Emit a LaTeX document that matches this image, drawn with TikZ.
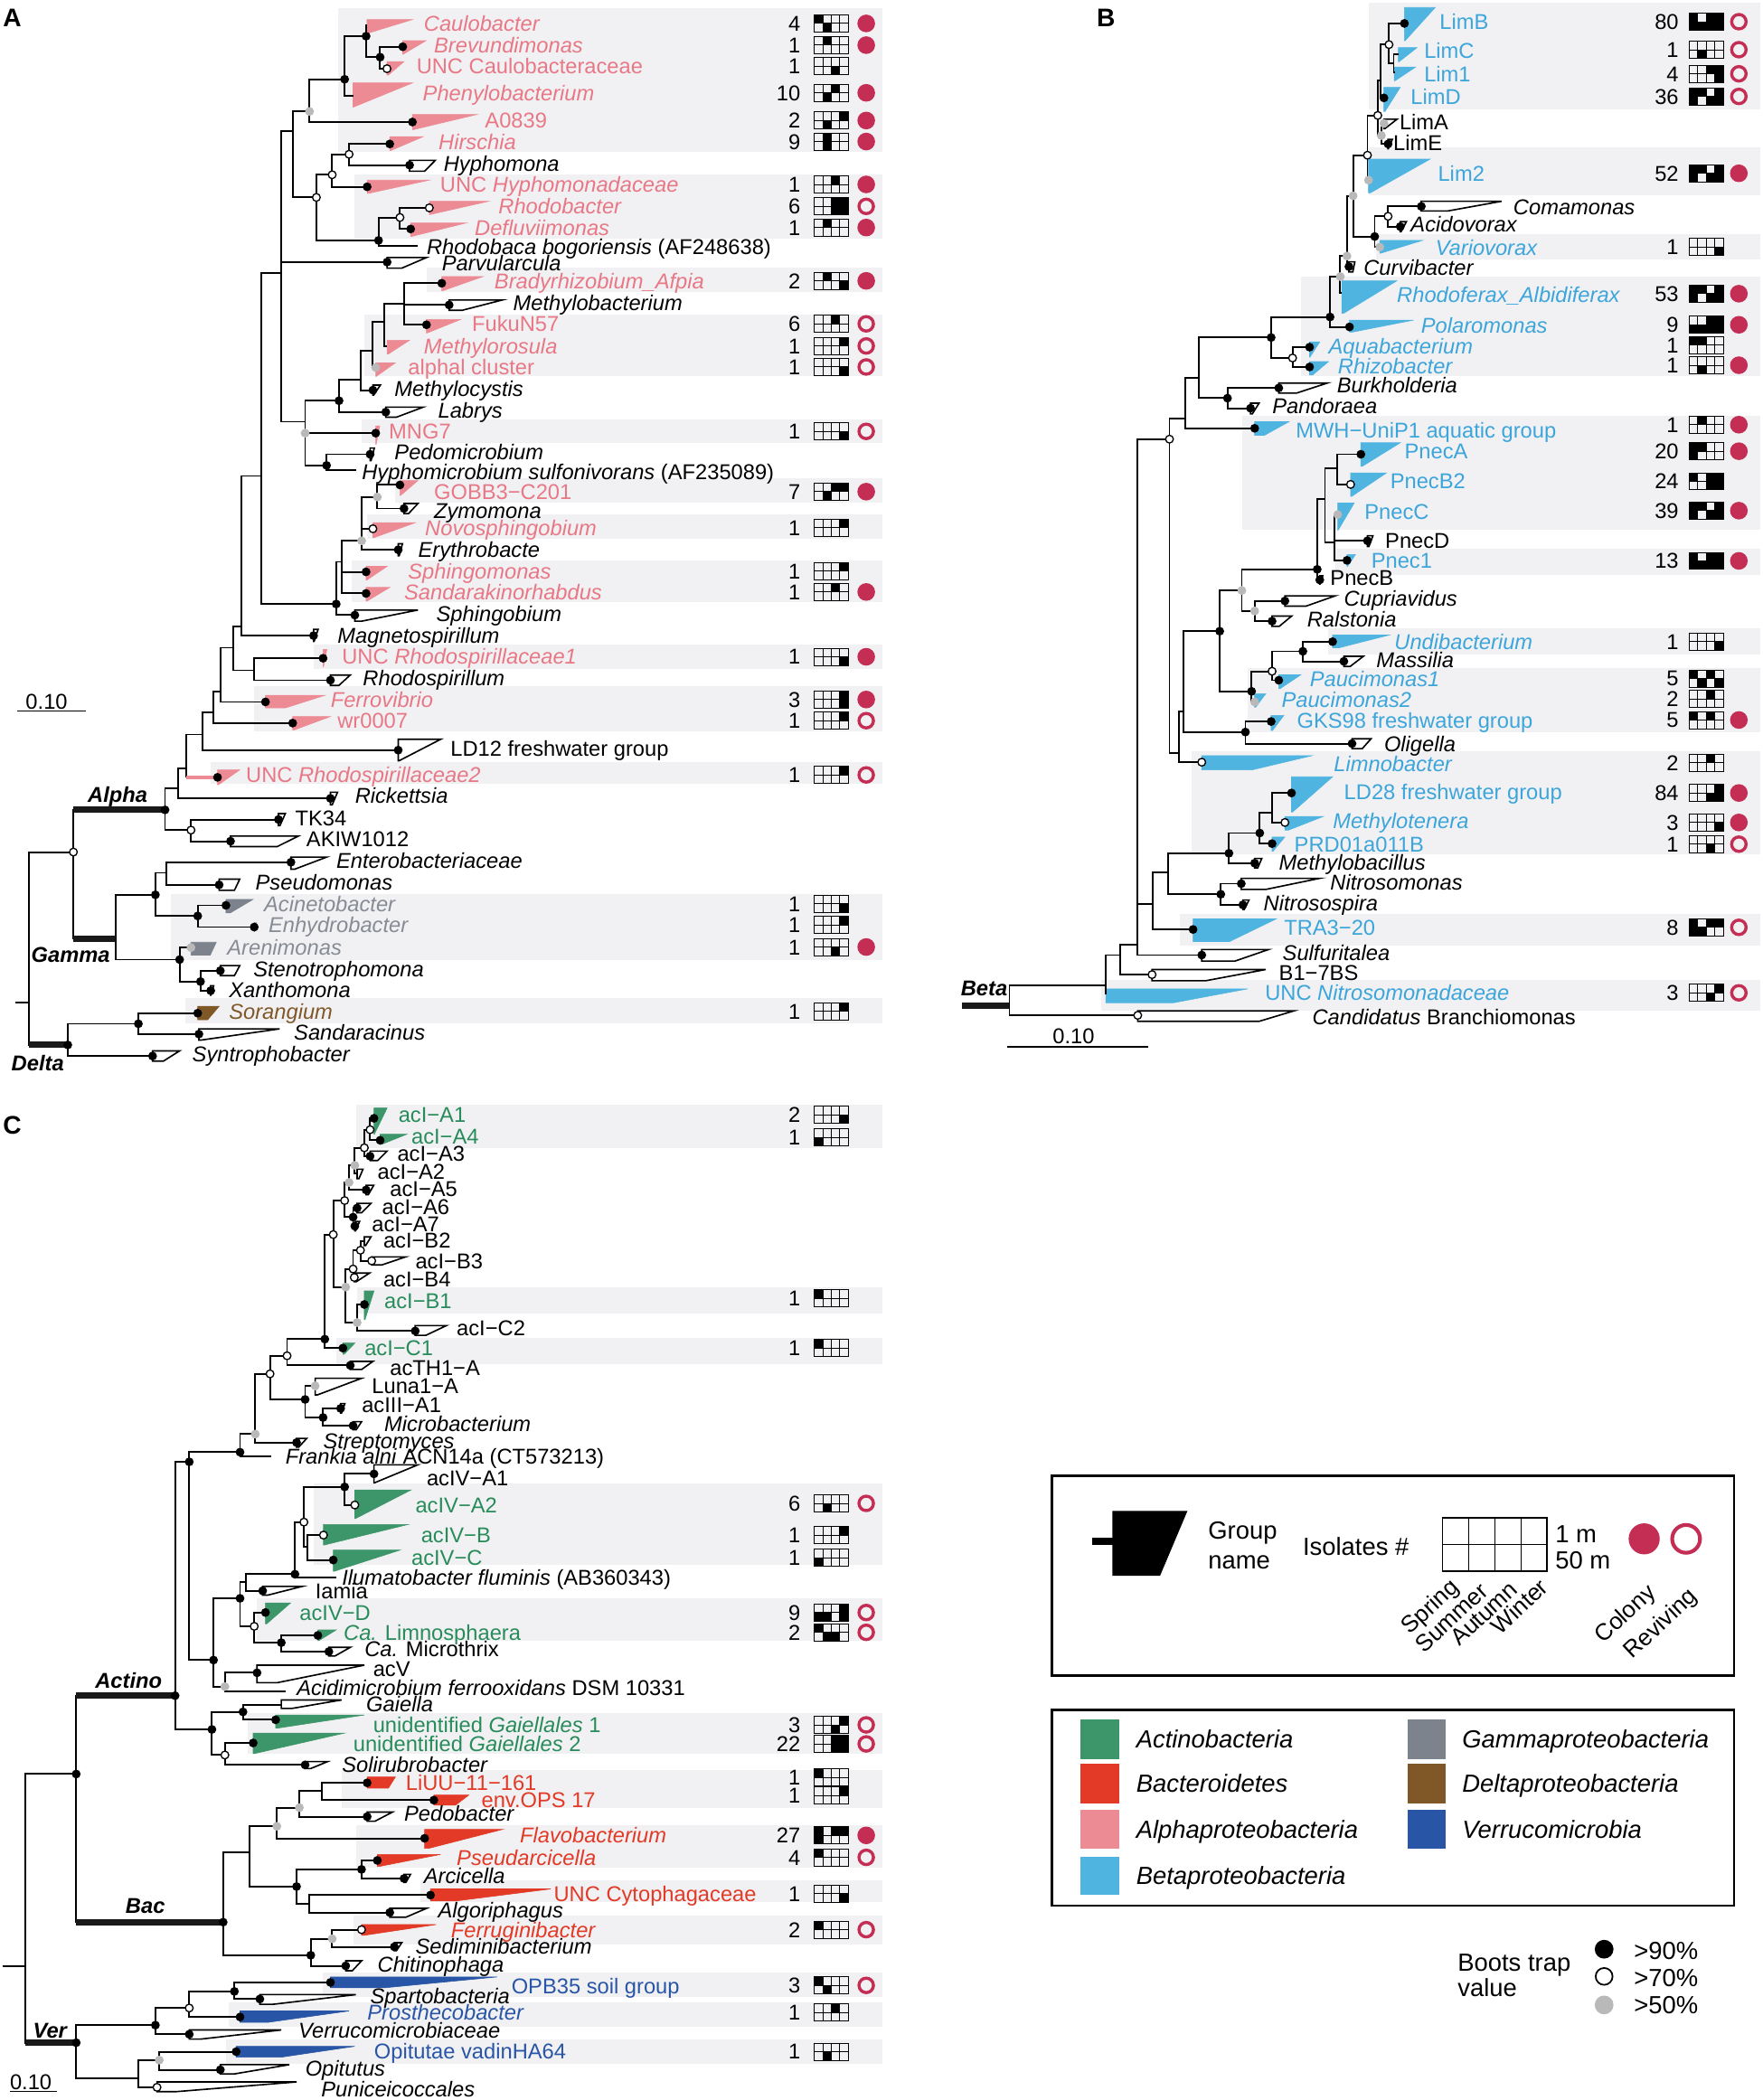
\documentclass[tikz,border=0pt]{standalone}
\usepackage{fontspec}
\setmainfont{Liberation Sans}
\definecolor{alphaC}{RGB}{237,139,149}
\definecolor{alphaT}{RGB}{232,120,133}
\definecolor{betaC}{RGB}{80,180,225}
\definecolor{betaT}{RGB}{60,165,218}
\definecolor{gamC}{RGB}{125,131,141}
\definecolor{gamT}{RGB}{135,140,148}
\definecolor{delC}{RGB}{128,88,40}
\definecolor{actC}{RGB}{60,150,105}
\definecolor{actT}{RGB}{40,140,90}
\definecolor{bacC}{RGB}{226,58,38}
\definecolor{verC}{RGB}{40,85,165}
\definecolor{crim}{RGB}{196,46,84}
\definecolor{band}{RGB}{241,241,244}
\definecolor{dotg}{RGB}{185,185,185}
\newcounter{tc}
\newcommand\Wd[8]{\coordinate (#1) at (#2,#3); \filldraw[#8] (#2,#4) -- (#6,#4) -- (#7,#5) -- (#2,#5) -- cycle;}
\newcommand\Ed[2]{\foreach \nn in {#2}{\draw[br] (#1) |- (\nn);}}
\newcommand\Db[1]{\foreach \nn in {#1}{\fill[black] (\nn) circle (3.3);}}
\newcommand\Do[1]{\foreach \nn in {#1}{\filldraw[fill=white,draw=black,line width=0.9] (\nn) circle (2.9);}}
\newcommand\Dg[1]{\foreach \nn in {#1}{\fill[dotg] (\nn) circle (3.3);}}
\newcommand\Lb[4][]{\stepcounter{tc}\node[lab,#1] (t\arabic{tc}) at (#2,#3+5.7) {#4};}
\newcommand\gridd[3]{%
 \foreach \gv [count=\gi from 0] in {#3}{%
   \ifnum\gv=1\relax
     \pgfmathsetmacro\gx{#1+6.4*mod(\gi,4)}%
     \pgfmathsetmacro\gy{#2-6.4+6.4*floor(\gi/4)}%
     \fill (\gx,\gy) rectangle ++(6.4,6.4);%
   \fi}%
 \draw[gl] (#1,#2-6.4) rectangle ++(25.6,12.8);
 \draw[gl] (#1+6.4,#2-6.4) -- ++(0,12.8) (#1+12.8,#2-6.4) -- ++(0,12.8) (#1+19.2,#2-6.4) -- ++(0,12.8) (#1,#2) -- ++(25.6,0);}
\newcommand\Row[7]{\stepcounter{tc}\node[numl] (t\arabic{tc}) at (#1,#4+5.7) {#5};\gridd{#2}{#4}{#6}\ifcase#7\or\fill[crim] (#3,#4) circle (6.6);\or\draw[crim,line width=2.3] (#3,#4) circle (5.4);\fi}
\newcommand\RA[4]{\Row{597.8}{607.8}{646.7}{#1}{#2}{#3}{#4}}
\newcommand\RB[4]{\Row{1253.4}{1261}{1298.2}{#1}{#2}{#3}{#4}}
\begin{document}
\begin{tikzpicture}[x=1pt,y=-1pt,
  br/.style={line width=1.3,black},
  thk/.style={line width=4.6,black!90},
  gl/.style={line width=0.6,black},
  lab/.style={anchor=base west,inner sep=0,font=\fontsize{16}{18}\selectfont},
  numl/.style={anchor=base east,inner sep=0,font=\fontsize{16}{18}\selectfont},
  clb/.style={font=\fontsize{16}{18}\selectfont\bfseries\itshape},
  pl/.style={anchor=north west,inner sep=0,font=\fontsize{19}{20}\selectfont\bfseries},
  leg/.style={anchor=base west,inner sep=0,font=\fontsize{18.5}{20}\selectfont},
  legr/.style={anchor=east,inner sep=0,rotate=43,font=\fontsize{17.5}{19}\selectfont},
  ta/.style={text=alphaT}, tb/.style={text=betaT}, tg/.style={text=gamT},
  td/.style={text=delC}, tc/.style={text=actT}, tr/.style={text=bacC}, tv/.style={text=verC},
  wa/.style={fill=alphaC,draw=alphaC,line width=0.4},
  wb/.style={fill=betaC,draw=betaC,line width=0.4},
  wg/.style={fill=gamC,draw=gamC,line width=0.4},
  wd/.style={fill=delC,draw=delC,line width=0.4},
  wc/.style={fill=actC,draw=actC,line width=0.4},
  wr/.style={fill=bacC,draw=bacC,line width=0.4},
  wv/.style={fill=verC,draw=verC,line width=0.4},
  wo/.style={fill=white,draw=black,line width=1.1}]
\useasboundingbox (0,0) rectangle (1316,1568);
\fill[white] (0,0) rectangle (1316,1568);
% ================= PANEL A =================
\fill[band] (252.2,6.3) rectangle (659,113.6);
\fill[band] (264.9,130) rectangle (659,178.2);
\fill[band] (318.4,199.8) rectangle (659,218.2);
\fill[band] (272,235) rectangle (659,281);
\fill[band] (270,313) rectangle (659,331);
\fill[band] (295,357.2) rectangle (659,375.2);
\fill[band] (274,384.2) rectangle (659,402.6);
\fill[band] (262.3,418.4) rectangle (659,449.4);
\fill[band] (234,481) rectangle (659,499.8);
\fill[band] (189.8,512.4) rectangle (659,546.2);
\fill[band] (157,568.7) rectangle (659,584.9);
\fill[band] (127.4,667.7) rectangle (659,716.5);
\fill[band] (138.3,745) rectangle (659,764.4);
\Wd{Caul}{274}{19}{14.6}{24.7}{308}{275}{wa}
\Wd{Brev}{300.7}{34.9}{30.4}{40.5}{318}{301}{wa}
\Wd{UNCC}{288.9}{51.3}{46}{56}{301.6}{290}{wa}
\Wd{Phen}{263.6}{71.5}{61.9}{79.9}{308}{264}{wa}
\Wd{Aoe}{307.9}{91.1}{85.5}{96.7}{356}{309}{wa}
\Wd{Hirs}{291}{107.5}{102}{112.5}{316}{291.5}{wa}
\Wd{Hyph}{305.8}{123.3}{119.7}{127.8}{325}{317}{wo}
\Wd{UNCH}{274.1}{139.5}{134.5}{144.4}{320.5}{275}{wa}
\Wd{Rbac}{320.5}{155.2}{150.3}{160.2}{364.8}{321}{wa}
\Wd{Defl}{306.6}{171}{166.5}{176.6}{348}{307}{wa}
\coordinate (Rbca) at (312,183.4);
\Wd{Parv}{289}{195.7}{192.3}{200.2}{318.4}{300}{wo}
\Wd{Brad}{329.8}{211.5}{206.5}{217.1}{360.6}{330.5}{wa}
\Wd{Mbact}{335.3}{227.7}{224}{231.7}{375}{345}{wo}
\Wd{Fuku}{318.4}{242.5}{238.5}{248.6}{344}{319}{wa}
\Wd{Mros}{289}{258.7}{254}{264.3}{305.8}{290}{wa}
\Wd{Alph}{280.5}{274.4}{271}{281}{295}{281}{wa}
\Wd{Mcys}{278.4}{291.3}{287.5}{295}{284}{279}{wo}
\Wd{Labr}{288}{307.7}{304}{311.5}{316}{296}{wo}
\Wd{MNG}{280.5}{323.4}{318}{331.8}{283.5}{280.8}{wa}
\Wd{Pedo}{276.3}{339.2}{334.5}{344}{279.5}{277}{wo}
\coordinate (Hsul) at (265.7,351.3);
\Wd{GOBB}{298.6}{362.1}{358.8}{370}{312}{299}{wa}
\Wd{Zymo}{301.6}{379.7}{376}{383.5}{312}{305}{wo}
\Wd{Novo}{278.4}{394.8}{390.3}{401.5}{310}{279}{wa}
\Wd{Eryt}{297.3}{410.5}{406}{415}{300.5}{298}{wo}
\Wd{Sphm}{273.3}{427}{422.9}{433}{289}{274}{wa}
\Wd{Sand}{273.3}{443.1}{438.6}{448.8}{291}{274}{wa}
\Wd{Sphb}{264.9}{459.3}{455.5}{463.8}{312}{270}{wo}
\Wd{Magn}{234.1}{474.6}{470}{479}{237.5}{234.5}{wo}
\Wd{URa}{241.2}{491.5}{485}{498}{244}{241.5}{wa}
\Wd{Rspi}{246.7}{507.9}{504}{511.8}{261.5}{253}{wo}
\Wd{Ferr}{198.2}{524.1}{519.2}{528.6}{242.5}{213}{wa}
\Wd{Wr}{218.5}{539.9}{535}{544.9}{246.7}{220}{wa}
\Wd{LDt}{297.3}{560.1}{552}{568}{329}{298}{wo}
\Wd{URb}{162.4}{580.4}{574.8}{586}{179}{163}{wa}
\Wd{Rick}{246.7}{596.1}{591.5}{601}{252}{248}{wo}
\Wd{TK}{207.9}{611.9}{607.5}{616.5}{213}{209}{wo}
\Wd{AKIW}{172.1}{628.1}{624.3}{632.1}{222.7}{207}{wo}
\Wd{Ente}{217.2}{643.8}{640}{649}{243.8}{220}{wo}
\Wd{Pseu}{163.6}{660.7}{656.4}{664.8}{179}{175}{wo}
\Wd{Acin}{168.7}{676}{671.5}{681.6}{189}{172}{wg}
\Wd{Enhy}{189.8}{692.2}{689}{695.5}{191.5}{190}{wg}
\Wd{Aren}{142.6}{707.5}{703.5}{713.1}{161.5}{157}{wg}
\Wd{Sten}{164.5}{724.8}{721}{728.5}{179}{175}{wo}
\Wd{Xant}{157.3}{739.7}{736}{743}{159.5}{157.5}{wo}
\Wd{Sora}{147.6}{756.5}{751.4}{761.5}{163.6}{155}{wd}
\Wd{Sndr}{148.5}{772.1}{768.2}{776.6}{208.8}{150}{wo}
\Wd{Synt}{113.9}{788.5}{784.7}{792.3}{134}{122}{wo}
\coordinate (a1) at (273.3,27);
\coordinate (a2) at (283.8,42.7);
\coordinate (a3) at (257.3,59.2);
\coordinate (a4) at (231.1,83.2);
\coordinate (a5) at (218.5,97.9);
\coordinate (a6) at (236.2,147.4);
\coordinate (a7) at (248,130.5);
\coordinate (a7b) at (260.6,115.2);
\coordinate (a8) at (282.6,179.5);
\coordinate (a8b) at (298.6,162.4);
\coordinate (a9) at (210,203.6);
\coordinate (a12) at (302,227);
\coordinate (a13) at (287,240);
\coordinate (a14) at (278.4,262);
\coordinate (a15) at (269.1,283.4);
\coordinate (a16) at (253.1,299.2);
\coordinate (a10) at (227.8,314.9);
\coordinate (a10g) at (227.8,323.4);
\coordinate (a17) at (243.8,347.5);
\coordinate (a22) at (281.7,371.1);
\coordinate (a23) at (270,403.8);
\coordinate (a24) at (255.2,419.5);
\coordinate (a19) at (251,451);
\coordinate (a18) at (195.3,355.4);
\coordinate (a25) at (180.5,467.9);
\coordinate (a27) at (189.8,500.5);
\coordinate (a26) at (174.2,483.6);
\coordinate (a28) at (164.5,516.3);
\coordinate (a29) at (159.4,532);
\coordinate (a30) at (151,548.4);
\coordinate (a31) at (139.2,573.6);
\coordinate (a32) at (132.9,588.3);
\coordinate (aAl) at (123.2,604.7);
\coordinate (a34) at (142.6,619.8);
\coordinate (aR1) at (54.8,636.2);
\coordinate (aGa) at (86.5,700.8);
\coordinate (a37) at (116,668.1);
\coordinate (a39) at (124.4,651.7);
\coordinate (a40) at (147.6,683.9);
\coordinate (a38) at (134.1,716.5);
\coordinate (a41) at (149.7,732.9);
\coordinate (aDe) at (50.6,780.2);
\coordinate (a43) at (103.3,764.4);
\coordinate (aRt) at (21.9,748.7);
\coordinate (aSt) at (11.8,748.7);
\Ed{a1}{Caul,a2} \Ed{a2}{Brev,UNCC} \Ed{a3}{a1,Phen} \Ed{a4}{a3,Aoe} \Ed{a5}{a4,a6}
\Ed{a6}{a7,a8} \Ed{a7}{a7b,UNCH} \Ed{a7b}{Hirs,Hyph} \Ed{a8}{a8b,Rbca} \Ed{a8b}{Rbac,Defl}
\Ed{a9}{a5,Parv,a10} \Ed{a12}{Brad,Mbact,Fuku} \Ed{a13}{a12,Mros} \Ed{a14}{a13,Alph}
\Ed{a15}{a14,Mcys} \Ed{a16}{a15,Labr} \Ed{a10}{a16,MNG,a17} \Ed{a17}{Pedo,Hsul}
\Ed{a22}{GOBB,Zymo} \Ed{a23}{a22,Novo,Eryt} \Ed{a24}{a23,Sphm,Sand} \Ed{a19}{a24,Sphb}
\Ed{a18}{a9,a19} \Ed{a25}{a18,Magn} \Ed{a27}{URa,Rspi} \Ed{a26}{a25,a27} \Ed{a28}{a26,Ferr}
\Ed{a29}{a28,Wr} \Ed{a30}{a29,LDt} \Ed{a31}{a30} \Ed{a32}{a31,Rick} \Ed{aAl}{a32,a34}
\Ed{a34}{TK,AKIW} \Ed{aR1}{aAl,aGa} \Ed{aGa}{a37,a38} \Ed{a37}{a39,a40} \Ed{a39}{Ente,Pseu}
\Ed{a40}{Acin,Enhy} \Ed{a38}{Aren,a41} \Ed{a41}{Sten,Xant} \Ed{aDe}{a43,Synt} \Ed{a43}{Sora,Sndr}
\Ed{aRt}{aR1,aDe}
\draw[br] (aSt) -- (aRt);
\draw[br] (a31) -- (a31 |- URb);
\draw[alphaC,line width=2.2] (a31 |- URb) -- (URb);
\draw[thk] (aR1 |- aAl) -- (aAl);
\draw[thk] (aR1 |- aGa) -- (aGa);
\draw[thk] (aRt |- aDe) -- (aDe);
\Db{a1,a2,a3,Brev,Aoe,Hirs,Hyph,UNCH,a8,Defl,Parv,Brad,Mbact,Fuku,Mcys,a16,Labr,MNG,a17,Pedo,GOBB,Zymo,Eryt,Sphm,Sand,a19,Sphb,Magn,URa,Rspi,Ferr,Wr,LDt,URb,Rick,aAl,TK,AKIW,Ente,Pseu,a37,a40,Acin,Enhy,a38,a41,Sten,Xant,aDe,a43,Sora,Sndr,Synt}
\Do{UNCC,a6,a7,a7b,a8b,Rbac,Novo,a34,aR1}
\Dg{a4,Alph,a22,a23,Aren,a10g}
\Lb[ta]{316.3}{17.5}{\textit{Caulobacter}}
\Lb[ta]{323.9}{33.7}{\textit{Brevundimonas}}
\Lb[ta]{310.8}{49.5}{UNC Caulobacteraceae}
\Lb[ta]{315.5}{69.3}{\textit{Phenylobacterium}}
\Lb[ta]{361.9}{90}{A0839}
\Lb[ta]{327.3}{105.7}{\textit{Hirschia}}
\Lb{331.1}{121.9}{\textit{Hyphomona}}
\Lb[ta]{328.5}{137.7}{UNC \textit{Hyphomonadaceae}}
\Lb[ta]{372}{154.1}{\textit{Rhodobacter}}
\Lb[ta]{354.3}{169.9}{\textit{Defluviimonas}}
\Lb{318.4}{184}{\textit{Rhodobaca bogoriensis} (AF248638)}
\Lb{329.8}{196.2}{\textit{Parvularcula}}
\Lb[ta]{369}{209.7}{\textit{Bradyrhizobium\_Afpia}}
\Lb{383}{226.1}{\textit{Methylobacterium}}
\Lb[ta]{352.2}{241.8}{FukuN57}
\Lb[ta]{316.3}{258.3}{\textit{Methylorosula}}
\Lb[ta]{304.5}{274}{alphal cluster}
\Lb{294.4}{290.1}{\textit{Methylocystis}}
\Lb{326.9}{306.3}{\textit{Labrys}}
\Lb[ta]{290.2}{322.1}{MNG7}
\Lb{294.4}{337.8}{\textit{Pedomicrobium}}
\Lb{270}{352.7}{\textit{Hyphomicrobium sulfonivorans} (AF235089)}
\Lb[ta]{323.9}{367.1}{GOBB3−C201}
\Lb{323.9}{381.3}{\textit{Zymomona}}
\Lb[ta]{317.2}{394.1}{\textit{Novosphingobium}}
\Lb{312.1}{410.5}{\textit{Erythrobacte}}
\Lb[ta]{304.5}{426.3}{\textit{Sphingomonas}}
\Lb[ta]{301.6}{442}{\textit{Sandarakinorhabdus}}
\Lb{325.6}{458.4}{\textit{Sphingobium}}
\Lb{251.8}{474.6}{\textit{Magnetospirillum}}
\Lb[ta]{255.2}{490.4}{UNC \textit{Rhodospirillaceae1}}
\Lb{270.8}{506.6}{\textit{Rhodospirillum}}
\Lb[ta]{246.7}{522.3}{\textit{Ferrovibrio}}
\Lb[ta]{251.8}{538.1}{wr0007}
\Lb{336.2}{559}{LD12 freshwater group}
\Lb[ta]{183.5}{578.6}{UNC \textit{Rhodospirillaceae2}}
\Lb{264.9}{594.3}{\textit{Rickettsia}}
\Lb{220.2}{610.8}{TK34}
\Lb{228.6}{626.5}{AKIW1012}
\Lb{251}{642.9}{\textit{Enterobacteriaceae}}
\Lb{190.6}{659.1}{\textit{Pseudomonas}}
\Lb[tg]{197}{674.9}{\textit{Acinetobacter}}
\Lb[tg]{200.3}{690.6}{\textit{Enhydrobacter}}
\Lb[tg]{169.5}{707.1}{\textit{Arenimonas}}
\Lb{189}{723.3}{\textit{Stenotrophomona}}
\Lb{170.8}{739}{\textit{Xanthomona}}
\Lb[td]{170.8}{755.2}{\textit{Sorangium}}
\Lb{219.3}{770.9}{\textit{Sandaracinus}}
\Lb{143.4}{786.9}{\textit{Syntrophobacter}}
\Lb[clb]{65.4}{593.4}{Alpha}
\Lb[clb]{23.2}{712.7}{Gamma}
\Lb[clb]{8.4}{794.1}{Delta}
\node[pl] (pA) at (2.1,6.5) {A};
\draw[line width=1] (12.7,531) -- (64.1,531);
\node[lab,anchor=base] (sA) at (34.8,529.5) {0.10};
\RA{17.5}{4}{1,0,0,0,0,1,0,0}{1}
\RA{33.7}{1}{0,1,0,0,0,0,0,0}{1}
\RA{49.5}{1}{0,0,0,0,0,0,1,0}{0}
\RA{69.3}{10}{0,0,1,0,0,1,0,0}{1}
\RA{90}{2}{0,0,0,1,0,1,0,0}{1}
\RA{105.7}{9}{0,1,0,0,0,1,0,0}{1}
\RA{137.7}{1}{0,0,1,0,0,0,0,0}{1}
\RA{154.1}{6}{0,0,1,1,0,0,1,1}{2}
\RA{169.9}{1}{0,1,0,0,0,0,0,0}{1}
\RA{209.7}{2}{0,1,0,0,0,0,0,1}{1}
\RA{241.8}{6}{0,0,1,0,0,0,0,0}{2}
\RA{258.3}{1}{0,0,0,1,0,0,0,0}{2}
\RA{274}{1}{0,0,0,0,0,0,0,1}{2}
\RA{322.1}{1}{0,0,0,0,0,0,0,1}{2}
\RA{367.1}{7}{0,0,1,1,0,1,0,0}{1}
\RA{394.1}{1}{0,0,0,1,0,0,0,0}{0}
\RA{426.3}{1}{0,0,0,1,0,0,0,0}{0}
\RA{442}{1}{0,0,1,0,0,0,0,0}{1}
\RA{490.4}{1}{0,0,0,0,0,0,0,1}{1}
\RA{522.3}{3}{0,0,0,1,0,0,0,1}{1}
\RA{538.1}{1}{0,0,0,1,0,0,0,0}{2}
\RA{578.6}{1}{0,0,0,1,0,0,0,0}{2}
\RA{674.9}{1}{0,0,0,0,0,0,0,1}{0}
\RA{690.6}{1}{0,0,0,1,0,0,0,0}{0}
\RA{707.1}{1}{0,0,0,0,0,0,1,0}{1}
\RA{755.2}{1}{0,0,0,1,0,0,0,0}{0}
% ================= PANEL B =================
\fill[band] (1021.7,2.2) rectangle (1314,81.4);
\fill[band] (1021.7,110.2) rectangle (1314,145.8);
\fill[band] (1027.4,175) rectangle (1314,193.9);
\fill[band] (971.1,206.5) rectangle (1314,281.1);
\fill[band] (927.1,310.8) rectangle (1314,395.4);
\fill[band] (996.8,409.4) rectangle (1314,429.6);
\fill[band] (991.8,469) rectangle (1314,488.6);
\fill[band] (931.7,498.9) rectangle (1314,546.6);
\fill[band] (889.6,560.6) rectangle (1314,637.8);
\fill[band] (880.8,682.1) rectangle (1314,705.9);
\fill[band] (821.8,731.6) rectangle (1314,754.7);
\Wd{LimB}{1048.5}{17.5}{5.6}{30.4}{1071.5}{1049}{wb}
\Wd{LimC}{1044}{40.5}{35.5}{46.1}{1058}{1044.5}{wb}
\Wd{Limo}{1040.9}{54}{50}{60.3}{1057}{1041.5}{wb}
\Wd{LimD}{1033.2}{73.1}{65.2}{83.2}{1045.4}{1034}{wb}
\Wd{LimA}{1033.2}{92.2}{89}{96}{1043}{1034}{wo}
\Wd{LimE}{1036.3}{107.5}{104}{111}{1039.5}{1036.5}{wo}
\Wd{Limt}{1021.7}{134.5}{118.8}{144}{1067.7}{1023}{wb}
\Wd{Coma}{1061.1}{154.1}{150.3}{157.5}{1121}{1081}{wo}
\Wd{Acid}{1045.4}{169.2}{165.5}{173}{1050}{1046}{wo}
\Wd{Vari}{1030.1}{184.5}{179.5}{189}{1062}{1031}{wb}
\Wd{Curv}{1007.1}{199.1}{195.5}{203}{1011.5}{1010}{wo}
\Wd{Rfx}{1001.8}{219}{209.7}{234}{1042.8}{1003}{wb}
\Wd{Pola}{1007.5}{244.1}{239}{247.9}{1055.4}{1010}{wb}
\Wd{Aqua}{977.7}{259.2}{255.3}{266.6}{985.3}{978}{wb}
\Wd{Rhiz}{977.7}{274}{270}{280}{991.8}{980}{wb}
\Wd{Burk}{954.7}{289.7}{286}{293.5}{991}{968}{wo}
\Wd{Pand}{933.6}{304.8}{301}{309}{940}{935}{wo}
\Wd{MWH}{936.7}{319.8}{314.9}{325}{962.3}{944}{wb}
\Wd{PnA}{1016}{339.2}{330.6}{348.2}{1045.4}{1017}{wb}
\Wd{PnBt}{1008.3}{361.7}{353.1}{370.7}{1035.1}{1009}{wb}
\Wd{PnC}{998.7}{384.2}{375.6}{395.9}{1011}{999}{wb}
\Wd{PnD}{1020.9}{403.8}{400}{408}{1025}{1022}{wo}
\Wd{Pno}{1005.6}{418.4}{414}{423}{1012}{1006}{wb}
\Wd{PnB}{985.3}{433}{430}{436}{987.5}{985.5}{wo}
\Wd{Cupr}{959.3}{448.7}{444.9}{452.6}{996.8}{975}{wo}
\Wd{Rals}{949.7}{463.8}{460}{467.7}{964.3}{955}{wo}
\Wd{Undi}{994.9}{479.1}{474.2}{483.6}{1037}{1000}{wb}
\Wd{Mass}{1003.3}{493.8}{490}{497.6}{1017.9}{1008}{wo}
\Wd{Pau}{954.7}{507.9}{503.9}{514}{971.1}{956}{wb}
\Wd{Paut}{936.7}{524.1}{518}{528}{945}{937.5}{wb}
\Wd{GKS}{949}{538.7}{534.2}{545.5}{958.5}{950}{wb}
\Wd{Olig}{1009.4}{555.2}{551.6}{559}{1023.6}{1017}{wo}
\Wd{Limn}{897.2}{569.1}{564.2}{574.8}{979.6}{935}{wb}
\Wd{LDe}{964.2}{592.1}{580}{606.3}{994.9}{965}{wb}
\Wd{Mten}{959.3}{614.1}{609.6}{619.8}{988}{962}{wb}
\Wd{PRD}{949.7}{629.9}{624.9}{635.5}{959.3}{950.5}{wb}
\Wd{Mbac}{936.7}{644.5}{641}{648}{942}{939}{wo}
\Wd{Nmon}{926.7}{659.8}{655.8}{664.1}{985.3}{945}{wo}
\Wd{Nspi}{927.9}{675.6}{672}{679}{932.5}{929}{wo}
\Wd{TRA}{890.7}{694}{686.1}{703}{952.8}{918}{wb}
\Wd{Sulf}{897.2}{713.1}{709}{717.6}{947}{922}{wo}
\Wd{Bse}{860.1}{727.7}{723.9}{732.3}{945}{900}{wo}
\Wd{UNCN}{825.6}{742.4}{738.3}{748.7}{931.7}{876.2}{wb}
\Wd{Cand}{849.4}{758.1}{754.8}{762.6}{966}{940}{wo}
\coordinate (b1) at (1037,33.3);
\coordinate (b2) at (1040.5,47.3);
\coordinate (b3) at (1031,60);
\coordinate (b4) at (1028.6,86.2);
\coordinate (b5) at (1031.3,101.2);
\coordinate (b6) at (1020.9,115.9);
\coordinate (b7) at (1010.2,146.2);
\coordinate (b8) at (1026.3,176.6);
\coordinate (b9) at (1036.3,161.5);
\coordinate (b10) at (1005.6,191.2);
\coordinate (b11) at (1000.6,206.5);
\coordinate (b12) at (993,236.7);
\coordinate (b13) at (949,252);
\coordinate (b14) at (965,267.3);
\coordinate (b15) at (895.3,282.3);
\coordinate (b16) at (916.4,297.3);
\coordinate (b17) at (884.6,312.6);
\coordinate (b18) at (873.1,327.9);
\coordinate (bp1) at (998,349.8);
\coordinate (bp2) at (989.2,372.3);
\coordinate (bp4) at (996,405);
\coordinate (bp5) at (983.4,425.1);
\coordinate (b33) at (927.1,440.9);
\coordinate (b34) at (936.7,456.2);
\coordinate (b20) at (910.6,471.3);
\coordinate (b37) at (972.7,486.3);
\coordinate (b36) at (949.7,501.2);
\coordinate (b35) at (934.4,516.2);
\coordinate (b19) at (883.8,530.9);
\coordinate (b21) at (929.8,546.6);
\coordinate (b22) at (880,562.4);
\coordinate (b29) at (949.7,606.5);
\coordinate (b28) at (940.5,622);
\coordinate (b26) at (917.5,637.1);
\coordinate (b25) at (872.3,651.3);
\coordinate (b27) at (911.4,667.7);
\coordinate (b24) at (860.8,674.9);
\coordinate (b23) at (849.4,705.3);
\coordinate (b30) at (836,713.1);
\coordinate (b31) at (825.6,735.6);
\coordinate (bBe) at (753.6,750.7);
\coordinate (bSt) at (718.4,750.7);
\Ed{b1}{LimB,b2} \Ed{b2}{LimC,Limo} \Ed{b3}{b1,LimD} \Ed{b4}{b3,b5} \Ed{b5}{LimA,LimE}
\Ed{b6}{b4,Limt} \Ed{b7}{b6,b8} \Ed{b8}{b9,Vari} \Ed{b9}{Coma,Acid} \Ed{b10}{b7,Curv}
\Ed{b11}{b10,Rfx} \Ed{b12}{b11,Pola} \Ed{b13}{b12,b14} \Ed{b14}{Aqua,Rhiz} \Ed{b15}{b13,b16}
\Ed{b16}{Burk,Pand} \Ed{b17}{b15,MWH} \Ed{b18}{b17,b22} \Ed{bp1}{PnA,PnBt} \Ed{bp4}{PnC,PnD,Pno}
\Ed{bp2}{bp1,bp4} \Ed{bp5}{bp2,PnB} \Ed{b33}{bp5,b34} \Ed{b34}{Cupr,Rals} \Ed{b20}{b33,b35}
\Ed{b37}{Undi,Mass} \Ed{b36}{b37,Pau} \Ed{b35}{b36,Paut} \Ed{b19}{b20,b21} \Ed{b21}{GKS,Olig}
\Ed{b22}{b19,Limn} \Ed{b29}{LDe,Mten} \Ed{b28}{b29,PRD} \Ed{b26}{b28,Mbac} \Ed{b27}{Nmon,Nspi}
\Ed{b25}{b26,b27} \Ed{b24}{b25,TRA} \Ed{b23}{b18,b24,Sulf} \Ed{b30}{b23,Bse} \Ed{b31}{b30,UNCN}
\Ed{bBe}{b31,Cand}
\draw[thk] (bSt) -- (bBe);
\Db{LimB,LimD,LimE,b8,Coma,Acid,Curv,b12,Pola,b13,Aqua,Rhiz,b16,Burk,Pand,MWH,PnA,PnD,Pno,bp5,PnB,Cupr,Rals,b20,b37,Undi,Mass,Pau,b35,GKS,b21,Olig,LDe,b28,PRD,b26,Mbac,b27,Nmon,Nspi,TRA,Sulf}
\Do{b1,b4,b6,b9,b14,b18,PnBt,b36,Limn,Mten,Bse,Cand}
\Dg{b5,LimA,Limt,b7,b10,b11,Vari,PnC,b33,b34,Paut}
\Lb[tb]{1074.6}{16.2}{LimB}
\Lb[tb]{1063.1}{37.8}{LimC}
\Lb[tb]{1063.1}{55.1}{Lim1}
\Lb[tb]{1053.1}{72.4}{LimD}
\Lb{1044.7}{91.1}{LimA}
\Lb{1040.1}{106.9}{LimE}
\Lb[tb]{1073.4}{129.4}{Lim2}
\Lb{1129.7}{154.8}{\textit{Comamonas}}
\Lb{1053.1}{167.6}{\textit{Acidovorax}}
\Lb[tb]{1071.5}{184.9}{\textit{Variovorax}}
\Lb{1017.9}{199.8}{\textit{Curvibacter}}
\Lb[tb]{1042.8}{220}{\textit{Rhodoferax\_Albidiferax}}
\Lb[tb]{1060.8}{243}{\textit{Polaromonas}}
\Lb[tb]{991.8}{258.3}{\textit{Aquabacterium}}
\Lb[tb]{998.7}{273.3}{\textit{Rhizobacter}}
\Lb{998}{287.9}{\textit{Burkholderia}}
\Lb{949.7}{303.2}{\textit{Pandoraea}}
\Lb[tb]{967.3}{321.6}{MWH−UniP1 aquatic group}
\Lb[tb]{1048.5}{336.9}{PnecA}
\Lb[tb]{1037.8}{359.4}{PnecB2}
\Lb[tb]{1018.6}{382.4}{PnecC}
\Lb{1034}{403.8}{PnecD}
\Lb[tb]{1023.6}{418.8}{Pnec1}
\Lb{993}{431.4}{PnecB}
\Lb{1003.3}{447.2}{\textit{Cupriavidus}}
\Lb{975.7}{462.3}{\textit{Ralstonia}}
\Lb[tb]{1040.9}{479.1}{\textit{Undibacterium}}
\Lb{1027.4}{492.6}{\textit{Massilia}}
\Lb[tb]{977.7}{507.2}{\textit{Paucimonas1}}
\Lb[tb]{956.6}{522.3}{\textit{Paucimonas2}}
\Lb[tb]{968.1}{538.1}{GKS98 freshwater group}
\Lb{1033.2}{555.6}{\textit{Oligella}}
\Lb[tb]{995.7}{570.3}{\textit{Limnobacter}}
\Lb[tb]{1003.3}{591.2}{LD28 freshwater group}
\Lb[tb]{994.9}{613}{\textit{Methylotenera}}
\Lb[tb]{966.2}{630.3}{PRD01a011B}
\Lb{954.7}{643.8}{\textit{Methylobacillus}}
\Lb{993}{658.7}{\textit{Nitrosomonas}}
\Lb{943.2}{674.4}{\textit{Nitrosospira}}
\Lb[tb]{958.5}{692.4}{TRA3−20}
\Lb{957.4}{711.3}{\textit{Sulfuritalea}}
\Lb{954.7}{726.6}{B1−7BS}
\Lb[tb]{944.3}{741.3}{UNC \textit{Nitrosomonadaceae}}
\Lb{979.6}{759.2}{\textit{Candidatus} Branchiomonas}
\Lb[clb]{717.2}{737.9}{Beta}
\node[pl] (pB) at (818.7,6.5) {B};
\draw[line width=1] (751.7,781.7) -- (857,781.7);
\node[lab,anchor=base] (sB) at (801.5,779.5) {0.10};
\RB{16.2}{80}{1,0,1,1,1,1,1,1}{2}
\RB{37.1}{1}{0,0,0,0,0,1,0,0}{2}
\RB{55.1}{4}{0,0,1,1,0,0,0,1}{2}
\RB{72}{36}{1,1,0,1,1,0,1,1}{2}
\RB{129.4}{52}{1,1,0,1,1,0,1,1}{1}
\RB{184.5}{1}{0,0,0,0,0,0,0,1}{0}
\RB{219.3}{53}{1,1,0,1,1,0,1,1}{1}
\RB{242.5}{9}{0,0,1,1,1,1,1,1}{1}
\RB{257.6}{1}{1,1,0,0,0,0,0,0}{0}
\RB{272.7}{1}{0,0,0,0,0,1,0,0}{1}
\RB{317.1}{1}{0,1,0,0,0,0,0,0}{1}
\RB{336.9}{20}{1,1,0,0,1,0,0,0}{1}
\RB{359.4}{24}{1,0,1,1,0,0,1,1}{0}
\RB{381.3}{39}{1,1,0,1,1,0,1,1}{1}
\RB{418.8}{13}{1,0,1,1,1,1,1,1}{1}
\RB{479.1}{1}{0,0,0,0,0,0,0,1}{0}
\RB{506.6}{5}{1,0,1,0,0,1,0,1}{0}
\RB{521.9}{2}{0,0,1,0,0,0,0,0}{0}
\RB{537.6}{5}{1,0,1,0,0,0,0,0}{1}
\RB{569.6}{2}{0,0,1,0,0,0,0,0}{0}
\RB{592.1}{84}{0,0,0,1,0,0,1,1}{1}
\RB{614.1}{3}{0,0,0,0,0,0,0,1}{1}
\RB{630.3}{1}{0,0,0,0,0,0,1,0}{2}
\RB{692.4}{8}{1,0,1,1,1,1,0,0}{2}
\RB{741.3}{3}{0,0,0,1,0,0,1,0}{2}
% ================= PANEL C =================
\fill[band] (265.7,825.1) rectangle (659,857.5);
\fill[band] (266.6,961) rectangle (659,980.8);
\fill[band] (251,998.8) rectangle (659,1018.6);
\fill[band] (234,1107.9) rectangle (659,1168.7);
\fill[band] (191.9,1193.4) rectangle (659,1224.9);
\fill[band] (184.7,1278.9) rectangle (659,1309.7);
\fill[band] (255.2,1321.6) rectangle (659,1350.1);
\fill[band] (265.7,1362.7) rectangle (659,1394.2);
\fill[band] (314.2,1403.7) rectangle (659,1419.9);
\fill[band] (263.6,1430.2) rectangle (659,1452.1);
\fill[band] (241.2,1473) rectangle (659,1491);
\fill[band] (170.8,1494.8) rectangle (659,1513.5);
\fill[band] (168.7,1522.9) rectangle (659,1540.9);
\Wd{Aa}{279.2}{835}{827.3}{846.9}{289}{279.5}{wc}
\Wd{Ab}{283.8}{851.4}{846.9}{854.4}{303.7}{285}{wc}
\Wd{Ac}{276.3}{863.3}{859.5}{866.5}{289}{282}{wo}
\Wd{Ad}{266.6}{876.2}{873}{880}{271}{268}{wo}
\Wd{Ae}{273.3}{888.5}{885}{892}{279}{275}{wo}
\Wd{Af}{266.6}{902}{898.5}{905.5}{277}{270}{wo}
\Wd{Ag}{264.9}{915.5}{912}{919}{268.5}{265.5}{wo}
\Wd{Bb}{272}{926.8}{923.5}{930}{277}{273}{wo}
\Wd{Bc}{277.5}{941.4}{938.5}{944.5}{302.8}{285}{wo}
\Wd{Bd}{264.5}{953.8}{950.5}{957}{276}{266}{wo}
\Wd{Ba}{272}{974}{963.9}{985.3}{279.2}{272.5}{wc}
\Wd{Cb}{310}{993.8}{989.8}{997}{333.2}{318}{wo}
\Wd{Ca}{256}{1006.6}{1002.8}{1011.1}{265}{257}{wc}
\Wd{TH}{261.5}{1019.5}{1016.5}{1022.5}{278.4}{270}{wo}
\Wd{Luna}{235.3}{1034.8}{1029.1}{1041.5}{270}{237}{wo}
\Wd{Athr}{254.3}{1051.6}{1048}{1055}{257.5}{255}{wo}
\Wd{Mbc}{263.6}{1064.5}{1061.5}{1067.5}{270}{266}{wo}
\Wd{Strp}{221.4}{1077.1}{1074}{1080.5}{229}{223}{wo}
\coordinate (Frnk) at (202.4,1087.7);
\Wd{IVa}{279.2}{1100.5}{1093.7}{1107.2}{312}{279.5}{wo}
\Wd{IVb}{264.9}{1123.7}{1112.4}{1133.8}{307}{265.5}{wc}
\Wd{IVBx}{241.5}{1146.2}{1138.3}{1153.6}{304.5}{242}{wc}
\Wd{IVC}{248.8}{1164.8}{1157.4}{1173.2}{298.6}{249.5}{wc}
\coordinate (Ilum) at (251,1177.7);
\Wd{Iam}{196.1}{1187.8}{1184.5}{1191}{225.6}{200}{wo}
\Wd{IVD}{198.2}{1204}{1196.8}{1212.5}{217}{199}{wc}
\Wd{Lsph}{237.3}{1221.1}{1217}{1225}{251}{238}{wc}
\Wd{Mthx}{245.5}{1233.2}{1230}{1236.5}{261.5}{250}{wo}
\Wd{acV}{191.9}{1249}{1243.3}{1256.4}{272}{207}{wo}
\coordinate (Acdm) at (213,1263.1);
\Wd{Gaie}{210}{1272.8}{1269.3}{1275.6}{255}{218}{wo}
\Wd{Gon}{205.8}{1284.1}{1280.5}{1290.2}{272}{208}{wc}
\Wd{Gtw}{189}{1301.4}{1294}{1309.3}{257.3}{190}{wc}
\Wd{Soli}{227.8}{1317.8}{1315.3}{1320.5}{244.6}{232}{wo}
\Wd{LiUU}{274.1}{1331.2}{1326.8}{1335.1}{295.2}{290}{wr}
\Wd{envO}{323.9}{1344.1}{1340.3}{1347.9}{350}{340}{wr}
\Wd{Pdb}{274.1}{1356.4}{1353}{1359.8}{293}{280}{wo}
\Wd{Flav}{317}{1372.6}{1365.9}{1380.1}{375.4}{320}{wr}
\Wd{Psda}{281.7}{1389.1}{1384.6}{1393.6}{329}{283}{wr}
\Wd{Arci}{301.6}{1402.6}{1399.5}{1405.5}{306.5}{303}{wo}
\Wd{UNCy}{321.4}{1415}{1410.4}{1419.4}{411.2}{340}{wr}
\Wd{Algo}{291}{1428}{1424.9}{1431.5}{318.4}{303}{wo}
\Wd{Ferg}{269.9}{1440.8}{1437}{1445}{325.6}{272}{wr}
\Wd{Sedi}{294.4}{1453.6}{1450.5}{1456.5}{300}{296}{wo}
\Wd{Chit}{258.1}{1467.8}{1464}{1471.5}{270}{263}{wo}
\Wd{OPB}{246.7}{1480.2}{1476.1}{1484.2}{371.1}{287}{wv}
\Wd{Spar}{194}{1492.6}{1489.3}{1496.5}{265.7}{204}{wo}
\Wd{Pros}{179.2}{1506}{1501.5}{1510}{260.6}{200}{wv}
\Wd{Verr}{141.3}{1518.9}{1515.7}{1522.5}{210}{150}{wo}
\Wd{Opae}{176.3}{1531.9}{1527.9}{1536}{264.9}{210}{wv}
\Wd{Opit}{164.5}{1545.4}{1541.6}{1548.5}{216}{175}{wo}
\Wd{Puni}{117.2}{1558.5}{1554.5}{1561.7}{221.4}{132}{wo}
\coordinate (c1) at (276.3,843.5);
\coordinate (c2) at (272,857);
\coordinate (c3) at (264.9,870.1);
\coordinate (c4) at (260.6,882.9);
\coordinate (c5) at (263.6,908.8);
\coordinate (c6) at (257.3,896.4);
\coordinate (c7) at (269.1,933.5);
\coordinate (c8) at (263.6,947.5);
\coordinate (c10) at (266.6,987.5);
\coordinate (c9) at (258.1,961);
\coordinate (c11) at (248.8,921.8);
\coordinate (c12) at (242.5,999.9);
\coordinate (c13) at (214.3,1012.3);
\coordinate (c14) at (241.2,1058.4);
\coordinate (c15) at (227.8,1044.9);
\coordinate (c16) at (201.6,1025.8);
\coordinate (c17) at (190.6,1070.8);
\coordinate (c18) at (179.2,1084.3);
\coordinate (c26) at (257.3,1110.2);
\coordinate (c27) at (229.5,1155);
\coordinate (c25) at (226.9,1136.5);
\coordinate (c24) at (220.2,1175.4);
\coordinate (c23) at (183.5,1181);
\coordinate (c28) at (210,1226.5);
\coordinate (c29) at (189.8,1214.3);
\coordinate (c21) at (179.2,1193.4);
\coordinate (c22) at (167.9,1259.3);
\coordinate (c20) at (159.4,1239.5);
\coordinate (c19) at (141.3,1091.5);
\coordinate (c30) at (181.4,1278.2);
\coordinate (c31) at (167.9,1310.4);
\coordinate (c32) at (158.2,1291.3);
\coordinate (cAc) at (130.7,1266.1);
\coordinate (cb1) at (240.4,1337.3);
\coordinate (cb2) at (223.5,1349.7);
\coordinate (cb3) at (206.7,1363.6);
\coordinate (cb4) at (269.9,1395.8);
\coordinate (cb5) at (231.1,1421.7);
\coordinate (cb6) at (221.4,1408.6);
\coordinate (cb7) at (186.4,1383);
\coordinate (cb8) at (248,1447.6);
\coordinate (cb9) at (232,1459.9);
\coordinate (cBa) at (166.6,1435.2);
\coordinate (cr1) at (56.9,1324.6);
\coordinate (cv1) at (175,1486.9);
\coordinate (cv2) at (141.3,1499.3);
\coordinate (cv3) at (116,1512.1);
\coordinate (cv4) at (118.9,1538.2);
\coordinate (cv5) at (103.3,1551.7);
\coordinate (cVe) at (56.9,1525.2);
\coordinate (cRt) at (19,1467.8);
\coordinate (cSt) at (2.1,1467.8);
\Ed{c1}{Aa,Ab} \Ed{c2}{c1,Ac} \Ed{c3}{c2,Ad} \Ed{c4}{c3,Ae} \Ed{c5}{Af,Ag} \Ed{c6}{c4,c5}
\Ed{c7}{Bb,Bc} \Ed{c8}{c7,Bd} \Ed{c10}{Ba,Cb} \Ed{c9}{c8,c10} \Ed{c11}{c6,c9} \Ed{c12}{c11,Ca}
\Ed{c13}{c12,TH} \Ed{c14}{Athr,Mbc} \Ed{c15}{Luna,c14} \Ed{c16}{c13,c15} \Ed{c17}{c16,Strp}
\Ed{c18}{c17,Frnk} \Ed{c26}{IVa,IVb} \Ed{c27}{IVBx,IVC} \Ed{c25}{c26,c27} \Ed{c24}{c25,Ilum}
\Ed{c23}{c24,Iam} \Ed{c28}{Lsph,Mthx} \Ed{c29}{IVD,c28} \Ed{c21}{c23,c29} \Ed{c22}{acV,Acdm}
\Ed{c20}{c21,c22} \Ed{c19}{c18,c20} \Ed{c30}{Gaie,Gon} \Ed{c31}{Gtw,Soli} \Ed{c32}{c30,c31}
\Ed{cAc}{c19,c32} \Ed{cb1}{LiUU,envO} \Ed{cb2}{cb1,Pdb} \Ed{cb3}{cb2,Flav} \Ed{cb4}{Psda,Arci}
\Ed{cb5}{UNCy,Algo} \Ed{cb6}{cb4,cb5} \Ed{cb7}{cb3,cb6} \Ed{cb8}{Ferg,Sedi} \Ed{cb9}{cb8,Chit}
\Ed{cBa}{cb7,cb9} \Ed{cr1}{cAc,cBa} \Ed{cv1}{OPB,Spar} \Ed{cv2}{cv1,Pros} \Ed{cv3}{cv2,Verr}
\Ed{cv4}{Opae,Opit} \Ed{cv5}{cv4,Puni} \Ed{cVe}{cv3,cv5} \Ed{cRt}{cr1,cVe}
\draw[br] (cSt) -- (cRt);
\draw[thk] (cr1 |- cAc) -- (cAc);
\draw[thk] (cr1 |- cBa) -- (cBa);
\draw[thk] (cRt |- cVe) -- (cVe);
\Db{Aa,Ab,Ac,Ae,Af,Ag,c5,Ba,Cb,c12,Ca,TH,c15,Athr,c14,Mbc,Strp,c18,c19,c26,IVa,c24,IVC,Iam,c21,IVD,c28,Lsph,Mthx,c20,acV,c30,Gon,Gtw,Soli,c32,cAc,cr1,cBa,LiUU,envO,Pdb,Flav,Psda,Arci,cb4,cb6,UNCy,Algo,Sedi,Chit,cb9,cv1,OPB,Spar,Pros,cv3,Verr,Opae,Opit,cVe}
\Do{c1,c2,c6,c7,Bc,c8,Bd,c11,c13,c16,c25,IVb,IVBx,c29,c31,Ferg,cv2,Puni}
\Dg{c3,c4,c9,c10,Luna,c17,c22,cb2,cb3,cb8,cv4}
\Lb[tc]{297.3}{832.3}{acI−A1}
\Lb[tc]{307}{848.5}{acI−A4}
\Lb{296.5}{861.1}{acI−A3}
\Lb{281.7}{874.6}{acI−A2}
\Lb{291}{887.4}{acI−A5}
\Lb{285.1}{900.9}{acI−A6}
\Lb{277.5}{913.7}{acI−A7}
\Lb{286}{926.3}{acI−B2}
\Lb{310}{941.4}{acI−B3}
\Lb{286}{954.9}{acI−B4}
\Lb[tc]{286.8}{971.3}{acI−B1}
\Lb{340.8}{991.6}{acI−C2}
\Lb[tc]{272}{1006.6}{acI−C1}
\Lb{291}{1021.3}{acTH1−A}
\Lb{277.5}{1034.8}{Luna1−A}
\Lb{270}{1048.7}{acIII−A1}
\Lb{286.8}{1062.9}{\textit{Microbacterium}}
\Lb{241.2}{1075.8}{\textit{Streptomyces}}
\Lb{213}{1087.7}{\textit{Frankia alni} ACN14a (CT573213)}
\Lb{318.4}{1103.4}{acIV−A1}
\Lb[tc]{310}{1123.7}{acIV−A2}
\Lb[tc]{314.2}{1146.2}{acIV−B}
\Lb[tc]{307}{1163}{acIV−C}
\Lb{255.2}{1177.7}{\textit{Ilumatobacter fluminis} (AB360343)}
\Lb{235.3}{1187.8}{Iamia}
\Lb[tc]{223.5}{1204}{acIV−D}
\Lb[tc]{256.4}{1218.8}{\textit{Ca.} Limnosphaera}
\Lb{272}{1231}{\textit{Ca.} Microthrix}
\Lb{278.4}{1246.3}{acV}
\Lb{221.4}{1260.2}{\textit{Acidimicrobium ferrooxidans} DSM 10331}
\Lb{273.3}{1272.1}{\textit{Gaiella}}
\Lb[tc]{278.4}{1287.9}{unidentified \textit{Gaiellales} 1}
\Lb[tc]{263.6}{1302.1}{unidentified \textit{Gaiellales} 2}
\Lb{255.2}{1317.8}{\textit{Solirubrobacter}}
\Lb[tr]{302.8}{1331.2}{LiUU−11−161}
\Lb[tr]{359.3}{1344.1}{env.OPS 17}
\Lb{301.6}{1354.2}{\textit{Pedobacter}}
\Lb[tr]{388}{1370.4}{\textit{Flavobacterium}}
\Lb[tr]{340.8}{1386.8}{\textit{Pseudarcicella}}
\Lb{316.3}{1400.3}{\textit{Arcicella}}
\Lb[tr]{413.3}{1413.8}{UNC Cytophagaceae}
\Lb{326.9}{1426.2}{\textit{Algoriphagus}}
\Lb[tr]{336.6}{1440.8}{\textit{Ferruginibacter}}
\Lb{310}{1453.6}{\textit{Sediminibacterium}}
\Lb{281.7}{1466.7}{\textit{Chitinophaga}}
\Lb[tv]{381.7}{1482.9}{OPB35 soil group}
\Lb{276.3}{1490.3}{\textit{Spartobacteria}}
\Lb[tv]{274.1}{1502.7}{\textit{Prosthecobacter}}
\Lb{222.7}{1516.2}{\textit{Verrucomicrobiaceae}}
\Lb[tv]{279.2}{1531.9}{Opitutae vadinHA64}
\Lb{227.8}{1544.3}{\textit{Opitutus}}
\Lb{239.6}{1560}{\textit{Puniceicoccales}}
\Lb[clb]{70.9}{1254.8}{Actino}
\Lb[clb]{93.6}{1422.8}{Bac}
\Lb[clb]{24.5}{1516.2}{Ver}
\node[pl] (pC) at (2.1,833.4) {C};
\draw[line width=1] (7.6,1561.6) -- (42.2,1561.6);
\node[lab,anchor=base] (sC) at (23,1560) {0.10};
\RA{832.3}{2}{0,0,0,0,0,0,0,1}{0}
\RA{849.2}{1}{0,0,0,0,1,0,0,0}{0}
\RA{969.5}{1}{1,0,0,0,0,0,0,0}{0}
\RA{1006.6}{1}{1,0,0,0,0,0,0,0}{0}
\RA{1122.5}{6}{0,0,0,0,0,1,0,0}{2}
\RA{1146.2}{1}{0,0,0,1,0,0,0,0}{0}
\RA{1163}{1}{0,0,0,0,1,0,0,0}{0}
\RA{1204}{9}{0,0,0,1,1,1,0,1}{2}
\RA{1218.8}{2}{1,0,0,0,0,1,1,0}{2}
\RA{1287.9}{3}{0,0,0,1,0,0,1,0}{2}
\RA{1302.1}{22}{0,0,1,1,0,0,1,1}{2}
\RA{1327.2}{1}{1,0,0,0,0,0,0,0}{0}
\RA{1340.7}{1}{0,0,0,1,0,0,0,0}{0}
\RA{1370.4}{27}{1,0,1,1,1,0,0,0}{1}
\RA{1386.8}{4}{1,0,0,0,0,0,0,0}{2}
\RA{1413.8}{1}{0,0,0,0,0,0,0,1}{0}
\RA{1440.8}{2}{1,0,0,0,0,0,0,0}{2}
\RA{1482.4}{3}{1,0,0,0,0,1,0,0}{2}
\RA{1502.7}{1}{0,0,1,0,0,0,0,0}{0}
\RA{1531.9}{1}{0,0,0,0,0,1,0,0}{0}
% ================= LEGENDS =================
\draw[line width=1.8] (785.5,1101.8) rectangle (1294.5,1251.2);
\draw[line width=5.5] (815.1,1150.7) -- (831,1150.7);
\fill (830.4,1128.2) -- (886.5,1128.2) -- (866.1,1176.5) -- (830.4,1176.5) -- cycle;
\node[leg] (lg1) at (901.8,1148.9) {Group};
\node[leg] (lg2) at (901.8,1171.4) {name};
\node[leg] (lg3) at (972.5,1161.1) {Isolates \#};
\draw[line width=1] (1076.9,1133.3) rectangle (1155,1173.2);
\draw[line width=1] (1096.4,1133.3) -- (1096.4,1173.2) (1115.95,1133.3) -- (1115.95,1173.2) (1135.5,1133.3) -- (1135.5,1173.2) (1076.9,1153.25) -- (1155,1153.25);
\node[leg] (lg4) at (1161,1151.6) {1 m};
\node[leg] (lg5) at (1161,1171.4) {50 m};
\fill[crim] (1227.5,1149) circle (11.6);
\draw[crim,line width=2.8] (1258.8,1149) circle (10.4);
\node[legr] (lg6) at (1087,1183) {Spring};
\node[legr] (lg7) at (1108,1185) {Summer};
\node[legr] (lg8) at (1130,1184) {Autumn};
\node[legr] (lg9) at (1153,1182) {Winter};
\node[legr] (lg10) at (1234,1187) {Colony};
\node[legr] (lg11) at (1265,1190) {Reviving};
\draw[line width=1.8] (785.5,1276.6) rectangle (1294.5,1422.8);
\fill[actC] (806.6,1284) rectangle (835.5,1313.2);
\fill[bacC] (806.6,1317) rectangle (835.5,1346.3);
\fill[alphaC] (806.6,1351.5) rectangle (835.5,1380.1);
\fill[betaC] (806.6,1386.1) rectangle (835.5,1415);
\fill[gamC] (1050.7,1284) rectangle (1079.3,1313.2);
\fill[delC] (1050.7,1317) rectangle (1079.3,1346.3);
\fill[verC] (1050.7,1351.5) rectangle (1079.3,1380.1);
\node[leg] (lk1) at (848.1,1305.2) {\textit{Actinobacteria}};
\node[leg] (lk2) at (848.1,1338.2) {\textit{Bacteroidetes}};
\node[leg] (lk3) at (848.1,1372.4) {\textit{Alphaproteobacteria}};
\node[leg] (lk4) at (848.1,1407.1) {\textit{Betaproteobacteria}};
\node[leg] (lk5) at (1091.5,1305.2) {\textit{Gammaproteobacteria}};
\node[leg] (lk6) at (1091.5,1338.2) {\textit{Deltaproteobacteria}};
\node[leg] (lk7) at (1091.5,1372.4) {\textit{Verrucomicrobia}};
\node[leg] (lb1) at (1088.1,1472.1) {Boots trap};
\node[leg] (lb2) at (1088.1,1490.8) {value};
\fill[black] (1197.6,1455.4) circle (7);
\draw[line width=1.2] (1197.6,1475.7) circle (6.3);
\fill[dotg] (1197.6,1497) circle (7);
\node[leg] (lb3) at (1219.7,1463.1) {>90\%};
\node[leg] (lb4) at (1219.7,1483.4) {>70\%};
\node[leg] (lb5) at (1219.7,1503.6) {>50\%};
\end{tikzpicture}
\end{document}
